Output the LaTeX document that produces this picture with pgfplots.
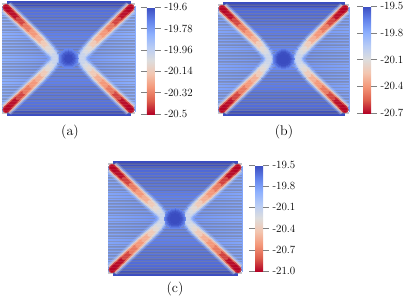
\documentclass[border=0pt]{standalone}
\usepackage{pgfplots}
\usepackage{pgfplotstable}
\pgfplotsset{compat=1.18}
\definecolor{stripeD}{RGB}{108,108,122}
\pgfplotsset{
  colormap={coolwarm}{
    rgb255(0)=(180,4,38)
    rgb255(1)=(222,96,77)
    rgb255(2)=(244,152,122)
    rgb255(3)=(243,198,176)
    rgb255(4)=(221,221,221)
    rgb255(5)=(184,204,245)
    rgb255(6)=(141,176,254)
    rgb255(7)=(98,130,234)
    rgb255(8)=(58,76,192)
  },
  colormap name=coolwarm,
}
\pgfplotstableread{
x y m1 m2 m3 m4
-0.94 0.89 -19.98 -20.23 -20.48 -20.50
-0.86 0.80 -19.96 -20.19 -20.43 -20.50
-0.76 0.69 -19.94 -20.16 -20.37 -20.47
-0.66 0.58 -19.93 -20.12 -20.28 -20.37
-0.56 0.47 -19.92 -20.10 -20.23 -20.30
-0.47 0.37 -19.91 -20.07 -20.18 -20.25
-0.39 0.28 -19.89 -20.03 -20.12 -20.19
-0.32 0.19 -19.87 -19.98 -20.05 -20.10
-0.26 0.12 -19.82 -19.91 -20.00 -20.05
-0.22 0.06 -19.80 -19.87 -19.96 -20.01
-0.20 0.00 -19.78 -19.84 -19.93 -19.97
}\armA
\pgfplotstableread{
x y m1 m2 m3 m4
-0.94 0.89 -20.00 -20.34 -20.68 -20.70
-0.86 0.80 -19.98 -20.28 -20.60 -20.70
-0.76 0.69 -19.96 -20.24 -20.52 -20.66
-0.66 0.58 -19.94 -20.20 -20.40 -20.52
-0.56 0.47 -19.93 -20.16 -20.34 -20.44
-0.47 0.37 -19.91 -20.12 -20.27 -20.36
-0.39 0.28 -19.88 -20.08 -20.20 -20.28
-0.33 0.19 -19.86 -20.00 -20.10 -20.16
-0.27 0.12 -19.79 -19.91 -20.03 -20.10
-0.24 0.06 -19.76 -19.86 -19.98 -20.05
-0.22 0.00 -19.74 -19.82 -19.94 -20.00
}\armB
\pgfplotstableread{
x y m1 m2 m3 m4
-0.94 0.89 -20.13 -20.55 -20.97 -21.00
-0.86 0.80 -20.10 -20.48 -20.88 -21.00
-0.76 0.69 -20.07 -20.43 -20.78 -20.96
-0.66 0.58 -20.06 -20.37 -20.63 -20.78
-0.56 0.47 -20.04 -20.33 -20.55 -20.67
-0.47 0.37 -20.01 -20.28 -20.46 -20.58
-0.38 0.28 -19.98 -20.22 -20.37 -20.48
-0.30 0.19 -19.95 -20.13 -20.25 -20.33
-0.24 0.12 -19.86 -20.01 -20.18 -20.25
-0.20 0.06 -19.83 -19.95 -20.10 -20.18
-0.18 0.00 -19.80 -19.91 -20.05 -20.12
}\armC
% triangles of the field: x y value
\pgfplotstableread{
x y v
-1 0.92 -19.82
-1 -0.92 -19.82
0 0 -19.74
1 0.92 -19.82
1 -0.92 -19.82
0 0 -19.74
-0.97 0.92 -19.67
0.97 0.92 -19.67
0 0 -19.74
-0.97 -0.92 -19.67
0.97 -0.92 -19.67
0 0 -19.74
-0.93 0.92 -19.61
0.93 0.92 -19.61
0.93 1 -19.60
-0.93 0.92 -19.61
-0.93 1 -19.60
0.93 1 -19.60
-0.93 -0.92 -19.61
0.93 -0.92 -19.61
0.93 -1 -19.60
-0.93 -0.92 -19.61
-0.93 -1 -19.60
0.93 -1 -19.60
}\triA
\pgfplotstableread{
x y v
-1 0.92 -19.76
-1 -0.92 -19.76
0 0 -19.69
1 0.92 -19.76
1 -0.92 -19.76
0 0 -19.69
-0.97 0.92 -19.58
0.97 0.92 -19.58
0 0 -19.69
-0.97 -0.92 -19.58
0.97 -0.92 -19.58
0 0 -19.69
-0.93 0.92 -19.51
0.93 0.92 -19.51
0.93 1 -19.50
-0.93 0.92 -19.51
-0.93 1 -19.50
0.93 1 -19.50
-0.93 -0.92 -19.51
0.93 -0.92 -19.51
0.93 -1 -19.50
-0.93 -0.92 -19.51
-0.93 -1 -19.50
0.93 -1 -19.50
}\triB
\pgfplotstableread{
x y v
-1 0.92 -19.83
-1 -0.92 -19.83
0 0 -19.74
1 0.92 -19.83
1 -0.92 -19.83
0 0 -19.74
-0.97 0.92 -19.59
0.97 0.92 -19.59
0 0 -19.74
-0.97 -0.92 -19.59
0.97 -0.92 -19.59
0 0 -19.74
-0.93 0.92 -19.52
0.93 0.92 -19.52
0.93 1 -19.50
-0.93 0.92 -19.52
-0.93 1 -19.50
0.93 1 -19.50
-0.93 -0.92 -19.52
0.93 -0.92 -19.52
0.93 -1 -19.50
-0.93 -0.92 -19.52
-0.93 -1 -19.50
0.93 -1 -19.50
}\triC
\pgfplotstableread{
x y
-1 0.95
1 0.95
nan nan
-1 0.90
1 0.90
nan nan
-1 0.85
1 0.85
nan nan
-1 0.80
1 0.80
nan nan
-1 0.75
1 0.75
nan nan
-1 0.70
1 0.70
nan nan
-1 0.65
1 0.65
nan nan
-1 0.60
1 0.60
nan nan
-1 0.55
1 0.55
nan nan
-1 0.50
1 0.50
nan nan
-1 0.45
1 0.45
nan nan
-1 0.40
1 0.40
nan nan
-1 0.35
1 0.35
nan nan
-1 0.30
1 0.30
nan nan
-1 0.25
1 0.25
nan nan
-1 0.20
1 0.20
nan nan
-1 0.15
1 0.15
nan nan
-1 0.10
1 0.10
nan nan
-1 0.05
1 0.05
nan nan
-1 0.00
1 0.00
nan nan
-1 -0.05
1 -0.05
nan nan
-1 -0.10
1 -0.10
nan nan
-1 -0.15
1 -0.15
nan nan
-1 -0.20
1 -0.20
nan nan
-1 -0.25
1 -0.25
nan nan
-1 -0.30
1 -0.30
nan nan
-1 -0.35
1 -0.35
nan nan
-1 -0.40
1 -0.40
nan nan
-1 -0.45
1 -0.45
nan nan
-1 -0.50
1 -0.50
nan nan
-1 -0.55
1 -0.55
nan nan
-1 -0.60
1 -0.60
nan nan
-1 -0.65
1 -0.65
nan nan
-1 -0.70
1 -0.70
nan nan
-1 -0.75
1 -0.75
nan nan
-1 -0.80
1 -0.80
nan nan
-1 -0.85
1 -0.85
nan nan
-1 -0.90
1 -0.90
nan nan
-1 -0.95
1 -0.95
}\stripes
% #1 table, #2 width, #3 column, #4 further style
\newcommand\armlayer[4]{%
  \addplot[mesh,line width=#2,#4,forget plot,point meta=\thisrow{#3}] table[x=x,y=y]{#1};
  \addplot[mesh,line width=#2,#4,forget plot,point meta=\thisrow{#3}] table[x expr=-\thisrow{x},y=y]{#1};
  \addplot[mesh,line width=#2,#4,forget plot,point meta=\thisrow{#3}] table[x=x,y expr=-\thisrow{y}]{#1};
  \addplot[mesh,line width=#2,#4,forget plot,point meta=\thisrow{#3}] table[x expr=-\thisrow{x},y expr=-\thisrow{y}]{#1};
}
\newcommand\disc[2]{%
  \addplot[scatter,only marks,mark=*,mark size=#1,point meta=explicit,forget plot,
    scatter/use mapped color={draw=mapped color,fill=mapped color},mark options={line width=0pt}]
    coordinates {(0,0) [#2]};
}
\newcommand\commonfield[1]{%
  \addplot[patch,shader=interp,point meta=\thisrow{v},forget plot] table[x=x,y=y]{#1};
}
\newcommand\finish[1]{%
  \addplot[stripeD,opacity=.42,line width=1.6pt,forget plot,unbounded coords=jump] table[x=x,y=y]{\stripes};
  \armlayer{#1}{14.5pt}{m1}{line cap=butt,opacity=.25}
  \armlayer{#1}{12pt}{m1}{line cap=butt,opacity=.55}
  \armlayer{#1}{9.5pt}{m2}{line cap=butt,opacity=.8}
  \armlayer{#1}{7pt}{m3}{line cap=round}
  \armlayer{#1}{4.5pt}{m4}{line cap=round}
  \addplot[white,opacity=.08,line width=.5pt,forget plot,unbounded coords=jump] table[x=x,y=y]{\stripes};
}
\pgfplotsset{
  panel/.style={
    scale only axis,
    axis lines=none,
    xmin=-1,xmax=1,ymin=-1,ymax=1,
    clip=false,
    anchor=south west,
    colorbar,
    colorbar style={
      anchor=south west,
      width=8pt,
      axis line style={draw=none},
      tick align=outside,
      major tick length=6pt,
      tick style={gray,line width=.5pt},
      yticklabel pos=right,
      yticklabel style={font=\fontsize{11}{13}\selectfont,xshift=0pt},
    },
  },
}
\begin{document}
\begin{tikzpicture}[x=1pt,y=1pt]
\path[use as bounding box] (0,0) rectangle (406,296);
\begin{axis}[panel,at={(2pt,180pt)},width=133pt,height=115pt,
  point meta min=-20.5,point meta max=-19.6,
  colorbar style={at={(1.09,0.017)},height=107pt,
    ytick={-20.5,-20.32,-20.14,-19.96,-19.78,-19.6},
    yticklabels={-20.5,-20.32,-20.14,-19.96,-19.78,-19.6}}]
  \commonfield{\triA}
  \disc{9.5pt}{-19.72}
  \disc{8.5pt}{-19.70}
  \disc{7.5pt}{-19.67}
  \disc{6.5pt}{-19.64}
  \disc{5.5pt}{-19.62}
  \disc{4pt}{-19.60}
  \finish{\armA}
\end{axis}
\begin{axis}[panel,at={(218pt,180pt)},width=131pt,height=114pt,
  point meta min=-20.7,point meta max=-19.5,
  colorbar style={at={(1.107,0.026)},height=107pt,
    ytick={-20.7,-20.4,-20.1,-19.8,-19.5},
    yticklabels={-20.7,-20.4,-20.1,-19.8,-19.5}}]
  \commonfield{\triB}
  \disc{10.5pt}{-19.66}
  \disc{9.5pt}{-19.62}
  \disc{8.5pt}{-19.58}
  \disc{7.5pt}{-19.54}
  \disc{6.5pt}{-19.51}
  \disc{5pt}{-19.50}
  \finish{\armB}
\end{axis}
\begin{axis}[panel,at={(108pt,20pt)},width=134pt,height=115pt,
  point meta min=-21,point meta max=-19.5,
  colorbar style={at={(1.097,0.043)},height=106pt,
    ytick={-21,-20.7,-20.4,-20.1,-19.8,-19.5},
    yticklabels={-21.0,-20.7,-20.4,-20.1,-19.8,-19.5}}]
  \commonfield{\triC}
  \disc{10.5pt}{-19.70}
  \disc{9.5pt}{-19.65}
  \disc{8.5pt}{-19.60}
  \disc{7.5pt}{-19.55}
  \disc{6.5pt}{-19.52}
  \disc{5pt}{-19.50}
  \finish{\armC}
\end{axis}
\node[font=\fontsize{14}{16}\selectfont] at (70,164) {(a)};
\node[font=\fontsize{14}{16}\selectfont] at (284,164) {(b)};
\node[font=\fontsize{14}{16}\selectfont] at (175,7) {(c)};
\end{tikzpicture}
\end{document}
